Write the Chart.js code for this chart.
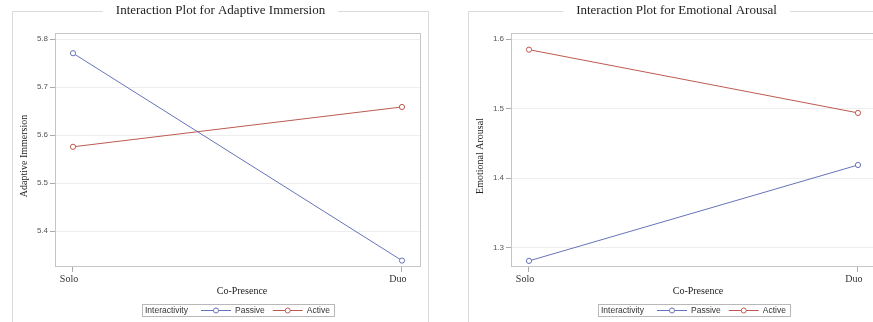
<!DOCTYPE html>
<html><head><meta charset="utf-8">
<script src="https://cdn.jsdelivr.net/npm/chart.js@4/dist/chart.umd.min.js"></script>
<style>
html,body{margin:0;padding:0;background:#fff;overflow:hidden;width:873px;height:322px;}
#wrap{position:relative;width:873px;height:322px;overflow:hidden;background:#fff;}
.box{position:absolute;top:0;width:440px;height:322px;}
canvas{display:block;}
</style></head><body>
<div id="wrap">
<div class="box" style="left:0px"><canvas id="c1" width="440" height="322"></canvas></div>
<div class="box" style="left:456px"><canvas id="c2" width="440" height="322"></canvas></div>
</div>
<script>
// ---- data ----
const categories = ['Solo', 'Duo'];
const seriesNames = ['Passive', 'Active'];
const legendTitle = 'Interactivity';
const xAxisTitle = 'Co-Presence';

const immersionTitle = 'Interaction Plot for Adaptive Immersion';
const immersionAxisTitle = 'Adaptive Immersion';
const immersionPassive = [5.771, 5.339];
const immersionActive = [5.576, 5.659];
const immersionTicks = [5.4, 5.5, 5.6, 5.7, 5.8];

const arousalTitle = 'Interaction Plot for Emotional Arousal';
const arousalAxisTitle = 'Emotional Arousal';
const arousalPassive = [1.281, 1.419];
const arousalActive = [1.585, 1.494];
const arousalTicks = [1.3, 1.4, 1.5, 1.6];

// ---- styles ----
const SERIF = '"Liberation Serif", "Times New Roman", serif';
const SANS = '"Liberation Sans", Arial, sans-serif';
const COLORS = ['#6673b8', '#bd5a50'];

const framePlugin = {
  id: 'frame',
  beforeDraw(chart, args, opts) {
    const ctx = chart.ctx;
    ctx.save();
    ctx.font = '13px ' + SERIF;
    const tw = ctx.measureText(opts.title).width;
    const fl = 12.5, fr = 428.5, ft = 11.5, fb = 340;
    const cx = (fl + fr) / 2;
    ctx.strokeStyle = '#dadada';
    ctx.lineWidth = 1;
    ctx.beginPath();
    ctx.moveTo(cx - tw / 2 - 13, ft);
    ctx.lineTo(fl, ft); ctx.lineTo(fl, fb); ctx.lineTo(fr, fb); ctx.lineTo(fr, ft);
    ctx.lineTo(cx + tw / 2 + 13, ft);
    ctx.stroke();
    ctx.fillStyle = '#222';
    ctx.textAlign = 'center';
    ctx.textBaseline = 'middle';
    ctx.fillText(opts.title, cx, 11);
    ctx.restore();
  },
  afterDraw(chart, args, opts) {
    const ctx = chart.ctx;
    const a = chart.chartArea;
    ctx.save();
    // plot box
    ctx.strokeStyle = '#c6c6c6';
    ctx.lineWidth = 1;
    ctx.strokeRect(Math.round(a.left) + 0.5, Math.round(a.top) + 0.5,
      Math.round(a.right - a.left) - 1, Math.round(a.bottom - a.top) - 1);
    // axis titles
    ctx.fillStyle = '#222';
    ctx.font = '10px ' + SERIF;
    ctx.textAlign = 'center';
    ctx.textBaseline = 'middle';
    const pcx = (a.left + a.right) / 2;
    ctx.fillText(xAxisTitle, pcx + 4, 291.5);
    ctx.save();
    ctx.translate(24, (a.top + a.bottom) / 2 + 6);
    ctx.rotate(-Math.PI / 2);
    ctx.fillText(opts.yTitle, 0, 0);
    ctx.restore();
    // legend
    ctx.font = '8.5px ' + SANS;
    const ds = chart.data.datasets;
    const wt = ctx.measureText(legendTitle).width;
    const ws = ds.map(d => ctx.measureText(d.label).width);
    const LINE = 30;
    let total = 3 + wt;
    ws.forEach((w, i) => { total += (i === 0 ? 13 : 8) + LINE + 4 + w; });
    total += 4;
    let x = Math.round(pcx - total / 2);
    const ly = 310.5;
    ctx.strokeStyle = '#b8b8b8';
    ctx.strokeRect(x + 0.5, 304.5, Math.round(total), 12);
    ctx.fillStyle = '#333';
    ctx.textAlign = 'left';
    ctx.fillText(legendTitle, x + 3, ly);
    x += 3 + wt;
    ds.forEach((d, i) => {
      x += (i === 0 ? 13 : 8);
      ctx.strokeStyle = d.borderColor;
      ctx.lineWidth = 1;
      ctx.beginPath(); ctx.moveTo(x, ly); ctx.lineTo(x + LINE, ly); ctx.stroke();
      ctx.beginPath(); ctx.arc(x + LINE / 2, ly, 2.5, 0, Math.PI * 2);
      ctx.fillStyle = '#fff'; ctx.fill(); ctx.stroke();
      x += LINE + 4;
      ctx.fillStyle = '#333';
      ctx.fillText(d.label, x, ly);
      x += ws[i];
    });
    ctx.restore();
  }
};

function makeChart(id, title, yTitle, passive, active, ticks, yMin, yMax) {
  const series = [passive, active];
  return new Chart(document.getElementById(id), {
    type: 'line',
    data: {
      datasets: series.map((vals, i) => ({
        label: seriesNames[i],
        data: vals.map((v, j) => ({ x: j, y: v })),
        borderColor: COLORS[i],
        backgroundColor: '#ffffff',
        pointBackgroundColor: '#ffffff',
        pointBorderColor: COLORS[i],
        borderWidth: 1,
        pointRadius: 2.6,
        pointBorderWidth: 1,
        tension: 0
      }))
    },
    options: {
      responsive: false,
      animation: false,
      events: [],
      layout: { padding: { left: 0, right: 19, top: 33, bottom: 25 } },
      plugins: {
        legend: { display: false },
        title: { display: false },
        tooltip: { enabled: false },
        frame: { title: title, yTitle: yTitle }
      },
      scales: {
        x: {
          type: 'linear',
          min: -0.0547, max: 1.0578,
          afterBuildTicks: s => { s.ticks = categories.map((c, i) => ({ value: i })); },
          afterFit: s => { s.height = 30; },
          ticks: {
            callback: v => categories[v],
            font: { family: SERIF, size: 10 },
            color: '#333',
            padding: 1,
            labelOffset: -4,
            maxRotation: 0
          },
          grid: { display: true, drawOnChartArea: false, drawTicks: true, tickLength: 5, tickColor: '#aaaaaa' },
          border: { display: false }
        },
        y: {
          min: yMin, max: yMax,
          afterBuildTicks: s => { s.ticks = ticks.map(v => ({ value: v })); },
          afterFit: s => { s.width = 55; },
          ticks: {
            callback: v => Number(v).toFixed(1),
            font: { family: SANS, size: 8 },
            color: '#555',
            padding: 2
          },
          grid: { color: '#eeeeee', lineWidth: 1, drawTicks: true, tickLength: 5, tickColor: '#aaaaaa' },
          border: { display: false }
        }
      }
    },
    plugins: [framePlugin]
  });
}

makeChart('c1', immersionTitle, immersionAxisTitle, immersionPassive, immersionActive, immersionTicks, 5.3256, 5.8131);
makeChart('c2', arousalTitle, arousalAxisTitle, arousalPassive, arousalActive, arousalTicks, 1.2722, 1.609);
</script>
</body></html>
